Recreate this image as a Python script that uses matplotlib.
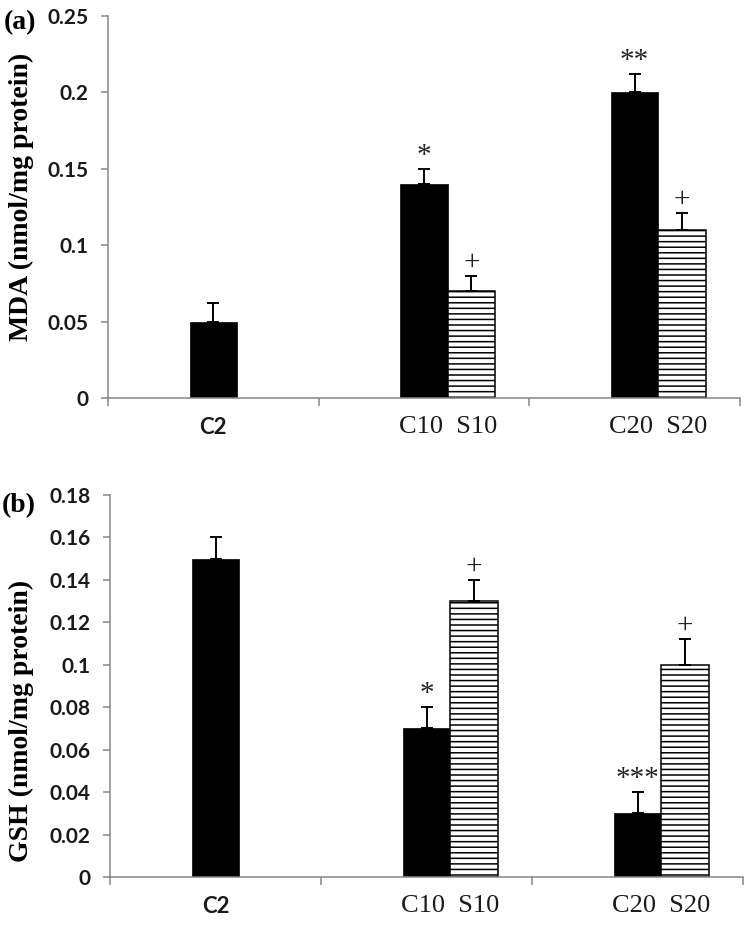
import matplotlib
matplotlib.use("Agg")
import matplotlib.pyplot as plt
import numpy as np

# data
cat_pos = [0, 1, 2]
c_labels = ["C2", "C10", "C20"]
s_labels = ["S10", "S20"]
tick_labels = ["C2", "C10  S10", "C20  S20"]

mda_c = [0.05, 0.14, 0.20]
mda_c_err = [0.012, 0.010, 0.012]
mda_s = [0.07, 0.11]
mda_s_err = [0.010, 0.011]
mda_c_mark = ["", "*", "**"]
mda_s_mark = ["+", "+"]

gsh_c = [0.15, 0.07, 0.03]
gsh_c_err = [0.010, 0.010, 0.010]
gsh_s = [0.13, 0.10]
gsh_s_err = [0.010, 0.012]
gsh_c_mark = ["", "*", "***"]
gsh_s_mark = ["+", "+"]

mda_ticks = [0, 0.05, 0.1, 0.15, 0.2, 0.25]
gsh_ticks = [0, 0.02, 0.04, 0.06, 0.08, 0.1, 0.12, 0.14, 0.16, 0.18]

W, H = 756, 936
bw = 0.225
grey = "#868686"
plt.rcParams["hatch.linewidth"] = 1.1


def panel(rect, c_vals, c_err, s_vals, s_err, c_mark, s_mark, yticks):
    l, r, t, b = rect
    ax = fig.add_axes([l / W, 1 - b / H, (r - l) / W, (b - t) / H])
    xc = np.array(cat_pos, dtype=float)
    xs = xc[1:] + bw
    ax.bar(xc, c_vals, bw, color="black", edgecolor="black", linewidth=0.5, zorder=2)
    ax.bar(xs, s_vals, bw, color="white", edgecolor="black", linewidth=1.1,
           hatch="---", zorder=2)
    ax.errorbar(xc, c_vals, yerr=[np.zeros(len(c_vals)), c_err], fmt="none",
                ecolor="black", elinewidth=1.4, capsize=4.3, capthick=1.4, zorder=3)
    ax.errorbar(xs, s_vals, yerr=[np.zeros(len(s_vals)), s_err], fmt="none",
                ecolor="black", elinewidth=1.4, capsize=4.3, capthick=1.4, zorder=3)
    for x, v, e, m in list(zip(xc, c_vals, c_err, c_mark)) + list(zip(xs, s_vals, s_err, s_mark)):
        if m:
            ax.annotate(m, (x, v + e), xytext=(0, 9.5), textcoords="offset points",
                        ha="center", va="center", fontsize=21,
                        family="Liberation Serif", color="#222222")
    ax.set_xlim(-0.5, 2.5)
    ax.set_ylim(yticks[0], yticks[-1])
    ax.set_yticks(yticks)
    ax.set_yticklabels([f"{v:g}" for v in yticks], family="Lato",
                       fontweight="bold", fontsize=15, color="#1a1a1a")
    ax.set_xticks([-0.5, 0.5, 1.5, 2.5])
    ax.set_xticklabels([])
    ax.tick_params(axis="x", length=6, width=1.1, color=grey)
    ax.tick_params(axis="y", length=5, width=1.1, color=grey, pad=9)
    # category labels: first in sans, grouped ones in serif
    lab_x = [0, 1 + bw / 2, 2 + bw / 2]
    for i, (x, txt) in enumerate(zip(lab_x, tick_labels)):
        if i == 0:
            kw = dict(family="Lato", fontsize=16, fontweight="bold")
        else:
            kw = dict(family="Liberation Serif", fontsize=19)
        ax.annotate(txt, (x, 0), xycoords=("data", "axes fraction"),
                    xytext=(0, -21), textcoords="offset points",
                    ha="center", va="center", color="#1a1a1a", **kw)
    for s in ["top", "right"]:
        ax.spines[s].set_visible(False)
    for s in ["left", "bottom"]:
        ax.spines[s].set_color(grey)
        ax.spines[s].set_linewidth(1.1)
    return ax


fig = plt.figure(figsize=(W / 100, H / 100), dpi=100)
panel((108, 740, 16, 398), mda_c, mda_c_err, mda_s, mda_s_err,
      mda_c_mark, mda_s_mark, mda_ticks)
panel((110, 743, 495, 877), gsh_c, gsh_c_err, gsh_s, gsh_s_err,
      gsh_c_mark, gsh_s_mark, gsh_ticks)

serif_bold = dict(family="Liberation Serif", fontweight="bold")
fig.text(21 / W, 1 - 197 / H, "MDA (nmol/mg protein)", rotation=90,
         ha="center", va="center", fontsize=20, **serif_bold)
fig.text(21 / W, 1 - 721 / H, "GSH (nmol/mg protein)", rotation=90,
         ha="center", va="center", fontsize=20, **serif_bold)
fig.text(20 / W, 1 - 23 / H, "(a)", ha="center", va="center", fontsize=20, **serif_bold)
fig.text(19 / W, 1 - 506 / H, "(b)", ha="center", va="center", fontsize=20, **serif_bold)

fig.savefig("out.png", dpi=100)
